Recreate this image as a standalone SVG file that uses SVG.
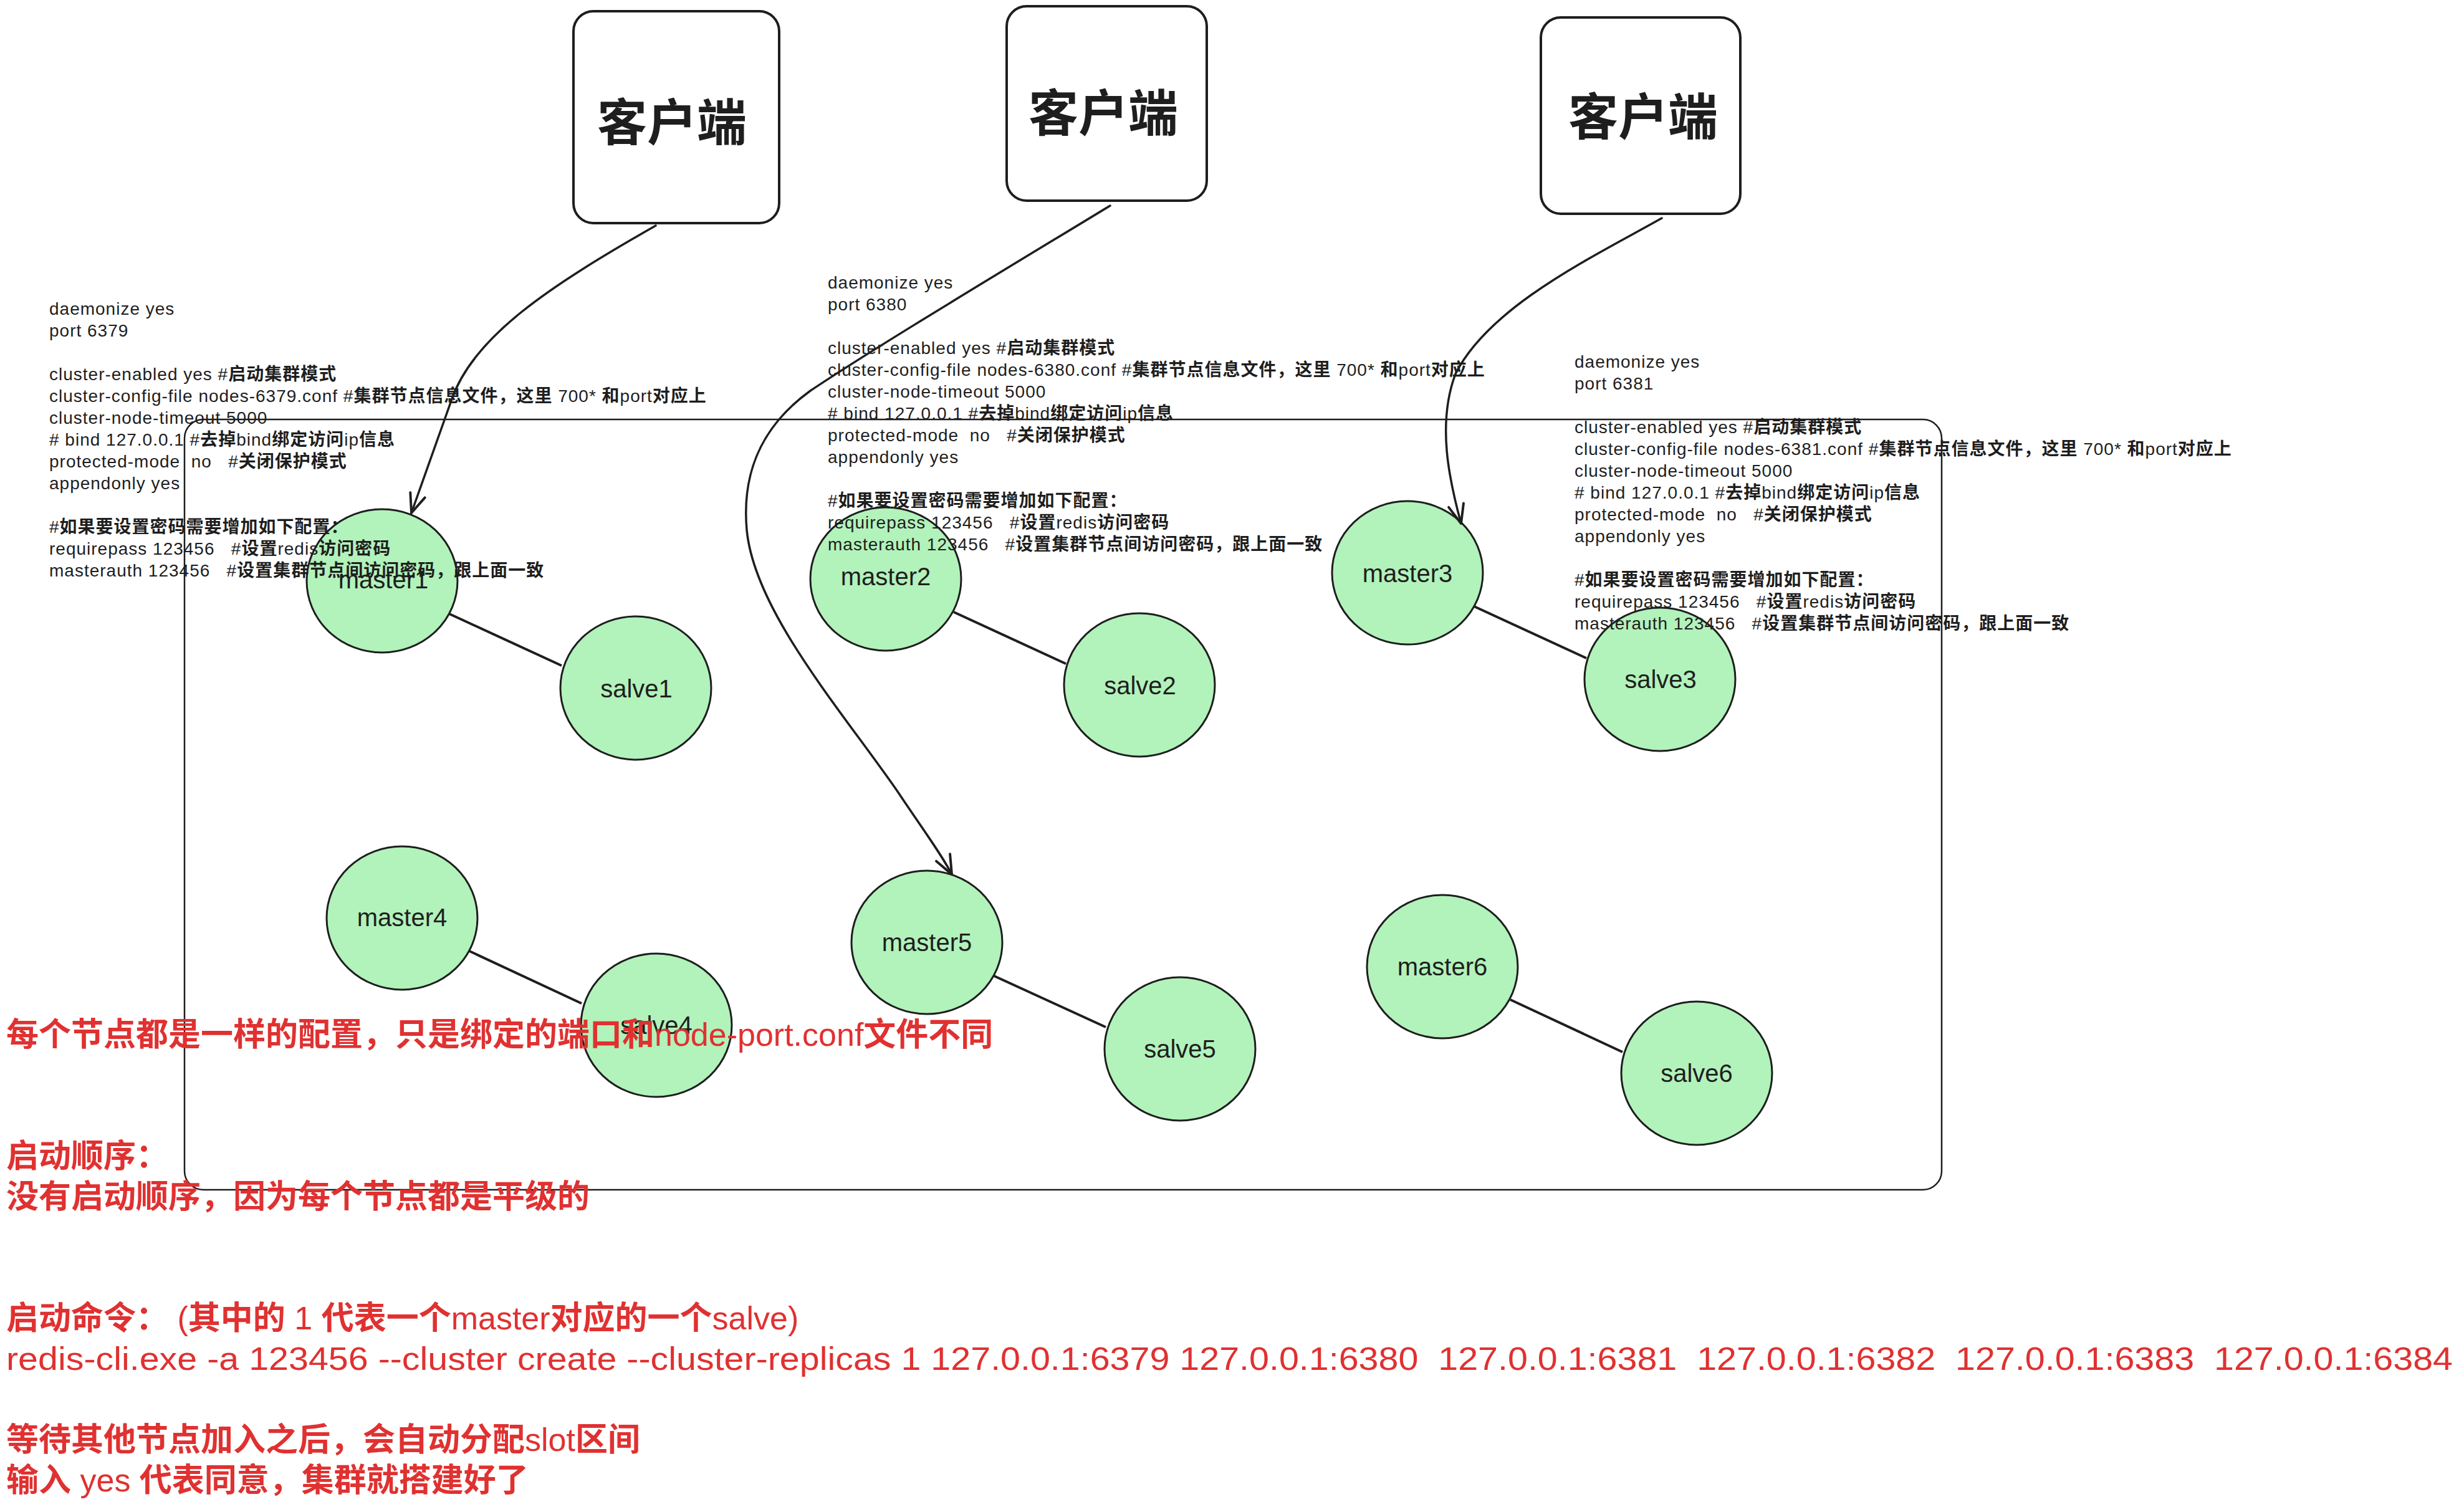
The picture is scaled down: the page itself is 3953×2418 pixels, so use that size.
<svg xmlns="http://www.w3.org/2000/svg" width="3953" height="2418" viewBox="0 0 3953 2418">
<style>
.box{fill:#fff;stroke:#1e1e1e;stroke-width:4}
.frame{fill:none;stroke:#1e1e1e;stroke-width:2.5}
.node ellipse{fill:#b2f2bb;stroke:#1e1e1e;stroke-width:3}
.lbl{font-family:"Liberation Sans","Noto Sans CJK SC",sans-serif;font-size:40px;fill:#1e1e1e;text-anchor:middle;dominant-baseline:central}
.ttl{font-family:"Noto Sans CJK SC",sans-serif;font-size:80px;font-weight:700;fill:#1e1e1e;text-anchor:middle;dominant-baseline:central}
.cfg{font-family:"Liberation Sans","Noto Sans CJK SC",sans-serif;font-size:28px;fill:#1e1e1e;letter-spacing:1px}
.red{font-family:"Liberation Sans","Noto Sans CJK SC",sans-serif;font-size:52px;fill:#e03131}
.b{font-weight:700}
.conn line{stroke:#1e1e1e;stroke-width:4}
.conn path{fill:none;stroke:#1e1e1e;stroke-width:3.5;stroke-linecap:round}
</style>
<defs>
<marker id="ah" viewBox="0 0 32 32" refX="30" refY="16" markerWidth="36" markerHeight="36" markerUnits="userSpaceOnUse" orient="auto">
<path d="M3,5 L30,16 L3,27" fill="none" stroke="#1e1e1e" stroke-width="3.5" stroke-linecap="round" stroke-linejoin="round"/>
</marker>
</defs>
<rect width="3953" height="2418" fill="#fff"/>

<rect id="cluster-frame" class="frame" x="296" y="673" width="2819" height="1236" rx="30"/>

<g id="client1"><rect class="box" x="920" y="18" width="330" height="340" rx="32"/><text class="ttl" x="1078" y="190">客户端</text></g>
<g id="client2"><rect class="box" x="1615" y="10" width="321" height="312" rx="32"/><text class="ttl" x="1770" y="175">客户端</text></g>
<g id="client3"><rect class="box" x="2472" y="28" width="320" height="315" rx="32"/><text class="ttl" x="2636" y="181">客户端</text></g>

<g id="master1" class="node"><ellipse cx="613" cy="932" rx="121" ry="115"/><text class="lbl" x="615" y="930">master1</text></g>
<g id="salve1" class="node"><ellipse cx="1020" cy="1104" rx="121" ry="115"/><text class="lbl" x="1021" y="1105">salve1</text></g>
<g id="master2" class="node"><ellipse cx="1421" cy="929" rx="121" ry="115"/><text class="lbl" x="1421" y="925">master2</text></g>
<g id="salve2" class="node"><ellipse cx="1828" cy="1099" rx="121" ry="115"/><text class="lbl" x="1829" y="1100">salve2</text></g>
<g id="master3" class="node"><ellipse cx="2258" cy="919" rx="121" ry="115"/><text class="lbl" x="2258" y="920">master3</text></g>
<g id="salve3" class="node"><ellipse cx="2663" cy="1090" rx="121" ry="115"/><text class="lbl" x="2664" y="1090">salve3</text></g>
<g id="master4" class="node"><ellipse cx="645" cy="1473" rx="121" ry="115"/><text class="lbl" x="645" y="1472">master4</text></g>
<g id="salve4" class="node"><ellipse cx="1053" cy="1645" rx="121" ry="115"/><text class="lbl" x="1053" y="1645">salve4</text></g>
<g id="master5" class="node"><ellipse cx="1487" cy="1512" rx="121" ry="115"/><text class="lbl" x="1487" y="1512">master5</text></g>
<g id="salve5" class="node"><ellipse cx="1893" cy="1683" rx="121" ry="115"/><text class="lbl" x="1893" y="1683">salve5</text></g>
<g id="master6" class="node"><ellipse cx="2314" cy="1551" rx="121" ry="115"/><text class="lbl" x="2314" y="1551">master6</text></g>
<g id="salve6" class="node"><ellipse cx="2722" cy="1722" rx="121" ry="115"/><text class="lbl" x="2722" y="1722">salve6</text></g>

<g id="connectors" class="conn">
<line x1="721" y1="985" x2="901" y2="1068"/>
<line x1="1530" y1="982" x2="1710" y2="1065"/>
<line x1="2365" y1="973" x2="2545" y2="1056"/>
<line x1="753" y1="1526" x2="933" y2="1610"/>
<line x1="1595" y1="1566" x2="1774" y2="1648"/>
<line x1="2423" y1="1604" x2="2603" y2="1688"/>
<path d="M1052,362 C880,460 760,540 725,640 C700,710 675,780 660,823" marker-end="url(#ah)"/>
<path d="M1781,330 C1600,440 1400,560 1300,627 C1220,685 1190,760 1198,850 C1210,980 1350,1140 1440,1270 C1480,1330 1510,1370 1527,1403" marker-end="url(#ah)"/>
<path d="M2666,350 C2560,410 2390,490 2335,600 C2305,680 2325,770 2344,840" marker-end="url(#ah)"/>
</g>

<g id="config-6379" class="cfg">
<text x="79" y="505">daemonize yes</text>
<text x="79" y="540">port 6379</text>
<text x="79" y="610">cluster-enabled yes #<tspan class="b">启动集群模式</tspan></text>
<text x="79" y="645">cluster-config-file nodes-6379.conf #<tspan class="b">集群节点信息文件，这里</tspan> 700* <tspan class="b">和</tspan>port<tspan class="b">对应上</tspan></text>
<text x="79" y="680">cluster-node-timeout 5000</text>
<text x="79" y="715"># bind 127.0.0.1 #<tspan class="b">去掉</tspan>bind<tspan class="b">绑定访问</tspan>ip<tspan class="b">信息</tspan></text>
<text x="79" y="750">protected-mode&#160;&#160;no&#160;&#160;&#160;#<tspan class="b">关闭保护模式</tspan></text>
<text x="79" y="785">appendonly yes</text>
<text x="79" y="855">#<tspan class="b">如果要设置密码需要增加如下配置：</tspan></text>
<text x="79" y="890">requirepass 123456&#160;&#160;&#160;#<tspan class="b">设置</tspan>redis<tspan class="b">访问密码</tspan></text>
<text x="79" y="925">masterauth 123456&#160;&#160;&#160;#<tspan class="b">设置集群节点间访问密码，跟上面一致</tspan></text>
</g>

<g id="config-6380" class="cfg">
<text x="1328" y="463">daemonize yes</text>
<text x="1328" y="498">port 6380</text>
<text x="1328" y="568">cluster-enabled yes #<tspan class="b">启动集群模式</tspan></text>
<text x="1328" y="603">cluster-config-file nodes-6380.conf #<tspan class="b">集群节点信息文件，这里</tspan> 700* <tspan class="b">和</tspan>port<tspan class="b">对应上</tspan></text>
<text x="1328" y="638">cluster-node-timeout 5000</text>
<text x="1328" y="673"># bind 127.0.0.1 #<tspan class="b">去掉</tspan>bind<tspan class="b">绑定访问</tspan>ip<tspan class="b">信息</tspan></text>
<text x="1328" y="708">protected-mode&#160;&#160;no&#160;&#160;&#160;#<tspan class="b">关闭保护模式</tspan></text>
<text x="1328" y="743">appendonly yes</text>
<text x="1328" y="813">#<tspan class="b">如果要设置密码需要增加如下配置：</tspan></text>
<text x="1328" y="848">requirepass 123456&#160;&#160;&#160;#<tspan class="b">设置</tspan>redis<tspan class="b">访问密码</tspan></text>
<text x="1328" y="883">masterauth 123456&#160;&#160;&#160;#<tspan class="b">设置集群节点间访问密码，跟上面一致</tspan></text>
</g>

<g id="config-6381" class="cfg">
<text x="2526" y="590">daemonize yes</text>
<text x="2526" y="625">port 6381</text>
<text x="2526" y="695">cluster-enabled yes #<tspan class="b">启动集群模式</tspan></text>
<text x="2526" y="730">cluster-config-file nodes-6381.conf #<tspan class="b">集群节点信息文件，这里</tspan> 700* <tspan class="b">和</tspan>port<tspan class="b">对应上</tspan></text>
<text x="2526" y="765">cluster-node-timeout 5000</text>
<text x="2526" y="800"># bind 127.0.0.1 #<tspan class="b">去掉</tspan>bind<tspan class="b">绑定访问</tspan>ip<tspan class="b">信息</tspan></text>
<text x="2526" y="835">protected-mode&#160;&#160;no&#160;&#160;&#160;#<tspan class="b">关闭保护模式</tspan></text>
<text x="2526" y="870">appendonly yes</text>
<text x="2526" y="940">#<tspan class="b">如果要设置密码需要增加如下配置：</tspan></text>
<text x="2526" y="975">requirepass 123456&#160;&#160;&#160;#<tspan class="b">设置</tspan>redis<tspan class="b">访问密码</tspan></text>
<text x="2526" y="1010">masterauth 123456&#160;&#160;&#160;#<tspan class="b">设置集群节点间访问密码，跟上面一致</tspan></text>
</g>

<g id="notes" class="red">
<text x="10" y="1678"><tspan class="b">每个节点都是一样的配置，只是绑定的端口和</tspan>node-port.conf<tspan class="b">文件不同</tspan></text>
<text x="10" y="1873"><tspan class="b">启动顺序：</tspan></text>
<text x="10" y="1938"><tspan class="b">没有启动顺序，因为每个节点都是平级的</tspan></text>
<text x="10" y="2133"><tspan class="b">启动命令：</tspan> (<tspan class="b">其中的</tspan> 1 <tspan class="b">代表一个</tspan>master<tspan class="b">对应的一个</tspan>salve)</text>
<text x="10" y="2198" textLength="3925" lengthAdjust="spacingAndGlyphs">redis-cli.exe -a 123456 --cluster create --cluster-replicas 1 127.0.0.1:6379 127.0.0.1:6380&#160;&#160;127.0.0.1:6381&#160;&#160;127.0.0.1:6382&#160;&#160;127.0.0.1:6383&#160;&#160;127.0.0.1:6384</text>
<text x="10" y="2328"><tspan class="b">等待其他节点加入之后，会自动分配</tspan>slot<tspan class="b">区间</tspan></text>
<text x="10" y="2393"><tspan class="b">输入</tspan> yes <tspan class="b">代表同意，集群就搭建好了</tspan></text>
</g>
</svg>
